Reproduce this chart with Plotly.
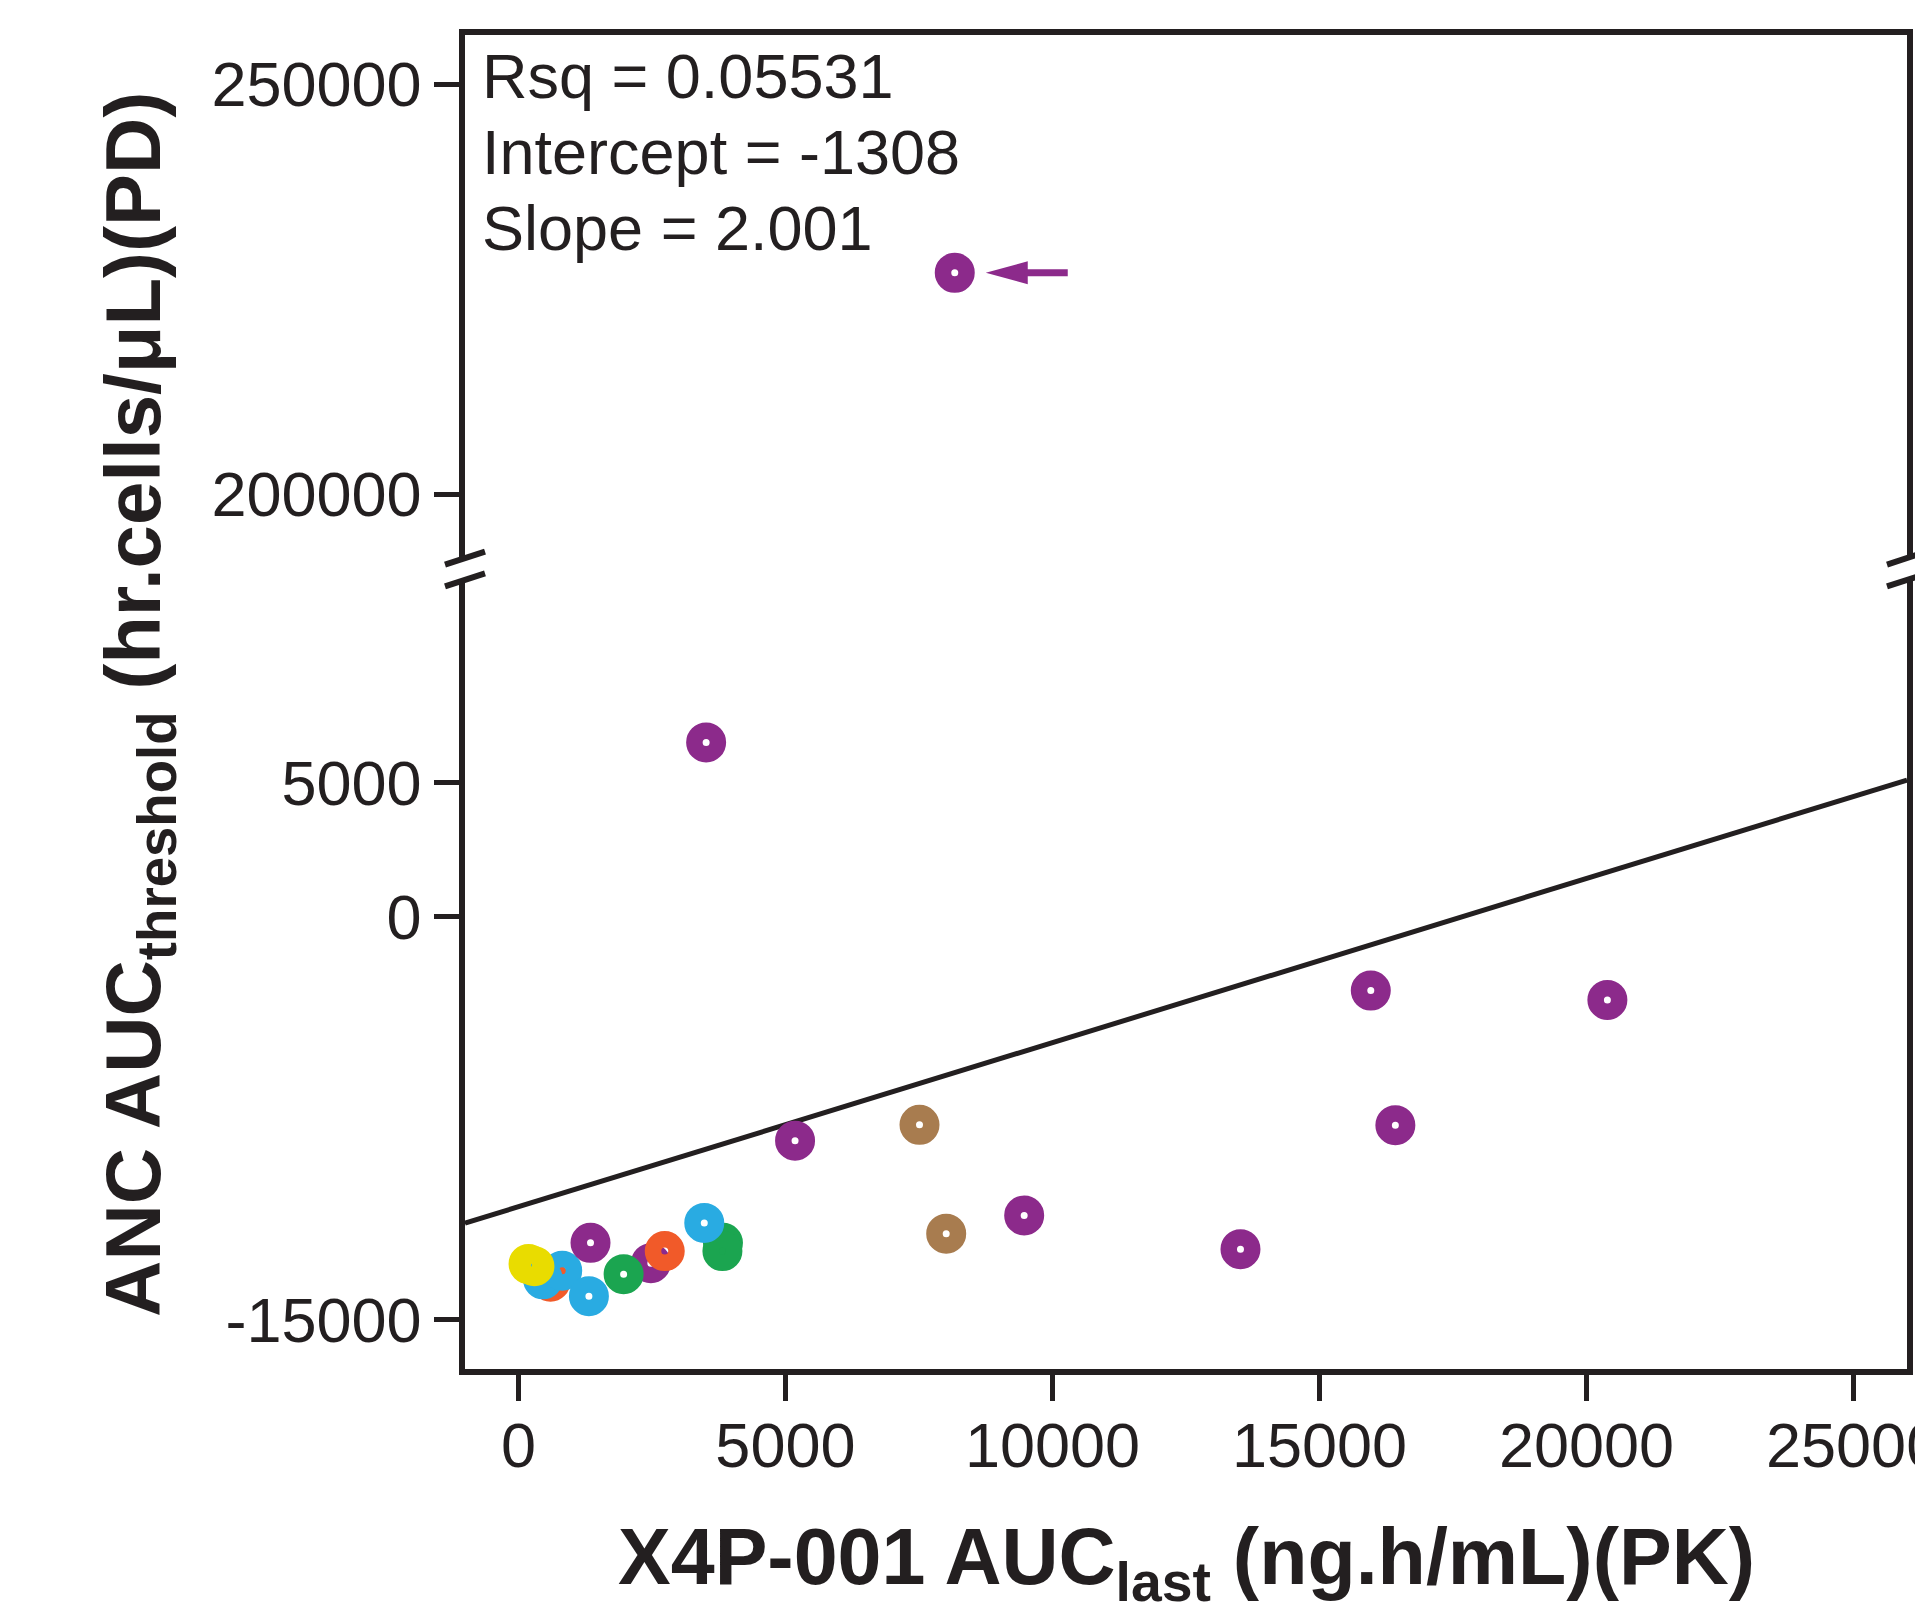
import plotly.graph_objects as go

INK = '#231F20'
FONT = 'Liberation Sans, Arial, Helvetica, sans-serif'

# PK exposure vs PD response, one entry per subject (listed in drawing order)
auc_pk = [600, 460, 820, 190, 300, 1350, 1320, 2480, 1970, 2740, 3830, 3820, 3480,
          5180, 7510, 8010, 9470, 13520, 15960, 16420, 20390, 3515, 8170]
auc_pd = [-13580, -13490, -13170, -12920, -13000, -12130, -14120, -12890, -13300, -12440,
          -12130, -12440, -11390, -8330, -7740, -11790, -11110, -12370, -2740, -7750,
          -3090, 6500, 227000]
group = ['orange', 'blue', 'blue', 'yellow', 'yellow', 'purple', 'blue', 'purple', 'green',
         'orange', 'green', 'green', 'blue', 'purple', 'brown', 'brown', 'purple', 'purple',
         'purple', 'purple', 'purple', 'purple', 'purple']

colors = {'purple': '#8C2A8B', 'orange': '#F15A29', 'blue': '#29ABE2',
          'green': '#1BA550', 'yellow': '#E9DC00', 'brown': '#A87C4F'}

# regression line as drawn
fit_x = [-1000, 26000]
fit_y = [-11400, 5100]

stats = ['Rsq = 0.05531', 'Intercept = -1308', 'Slope = 2.001']

x_ticks = [0, 5000, 10000, 15000, 20000, 25000]
y_ticks_low = [-15000, 0, 5000]
y_ticks_high = [200000, 250000]

x_range = [-1000, 26000]
y_range_low = [-16830, 12550]
y_range_high = [192200, 256000]
y_break = 100000

low_dom = [0, 0.5915]
high_dom = [0.6079, 1]

lo = [i for i in range(len(auc_pk)) if auc_pd[i] < y_break]
hi = [i for i in range(len(auc_pk)) if auc_pd[i] >= y_break]

ring = dict(symbol='circle-open', size=23.5, line=dict(width=16.5))

fig = go.Figure()
fig.add_trace(go.Scatter(x=fit_x, y=fit_y, mode='lines', line=dict(color=INK, width=5),
                         xaxis='x', yaxis='y', showlegend=False, hoverinfo='skip'))
fig.add_trace(go.Scatter(x=[auc_pk[i] for i in lo], y=[auc_pd[i] for i in lo], mode='markers',
                         marker=dict(color=[colors[group[i]] for i in lo], **ring),
                         xaxis='x', yaxis='y', showlegend=False))
fig.add_trace(go.Scatter(x=[auc_pk[i] for i in hi], y=[auc_pd[i] for i in hi], mode='markers',
                         marker=dict(color=[colors[group[i]] for i in hi], **ring),
                         xaxis='x2', yaxis='y2', showlegend=False))

axis_common = dict(showgrid=False, zeroline=False, linecolor=INK, linewidth=5.5, automargin=False,
                   tickcolor=INK, tickwidth=5, tickfont=dict(size=63, color=INK, family=FONT))

fig.update_layout(
    width=1915, height=1604,
    margin=dict(l=465, r=8, t=35, b=235),
    paper_bgcolor='white', plot_bgcolor='white',
    font=dict(family=FONT, color=INK),
    xaxis=dict(domain=[0, 1], range=x_range, anchor='y', showline=True, ticks='outside',
               ticklen=26, tickvals=x_ticks, ticktext=[str(v) for v in x_ticks],
               ticklabelstandoff=-9, ticklabeloverflow='allow', **axis_common),
    xaxis2=dict(matches='x', anchor='y2', side='top', showline=True, ticks='',
                showticklabels=False, showgrid=False, zeroline=False, automargin=False,
                linecolor=INK, linewidth=5.5),
    yaxis=dict(domain=low_dom, range=y_range_low, anchor='x', showline=True, mirror=True,
               ticks='outside', ticklen=25, tickvals=y_ticks_low,
               ticktext=[str(v) for v in y_ticks_low], ticklabelstandoff=0, **axis_common),
    yaxis2=dict(domain=high_dom, range=y_range_high, anchor='x2', showline=True, mirror=True,
                ticks='outside', ticklen=25, tickvals=y_ticks_high,
                ticktext=[str(v) for v in y_ticks_high], ticklabelstandoff=0, **axis_common),
)

# axis break marks on both sides
shapes = []
for xp in [0, 1]:
    for yp in [low_dom[1], high_dom[0]]:
        shapes.append(dict(type='line', xref='paper', yref='paper', xsizemode='pixel',
                           ysizemode='pixel', xanchor=xp, yanchor=yp,
                           x0=-20, x1=20, y0=-6.5, y1=6.5, line=dict(color=INK, width=6)))

# arrow pointing at the outlier
ox, oy = auc_pk[hi[0]], auc_pd[hi[0]]
shapes.append(dict(type='path', xref='x2', yref='y2', xsizemode='pixel', ysizemode='pixel',
                   xanchor=ox, yanchor=oy, path='M 31 0 L 73 11.5 L 73 -11.5 Z',
                   fillcolor=colors['purple'], line=dict(width=0)))
shapes.append(dict(type='line', xref='x2', yref='y2', xsizemode='pixel', ysizemode='pixel',
                   xanchor=ox, yanchor=oy, x0=70, x1=113, y0=0, y1=0,
                   line=dict(color=colors['purple'], width=7)))
fig.update_layout(shapes=shapes)

annotations = []
for k, s in enumerate(stats):
    annotations.append(dict(text=s, xref='paper', yref='paper', x=0.0104, y=0.969 - 0.057 * k,
                            xanchor='left', yanchor='middle', showarrow=False,
                            font=dict(size=63, color=INK, family=FONT)))
annotations.append(dict(text='<b>X4P-001 AUC<sub>last</sub> (ng.h/mL)(PK)</b>',
                        xref='paper', yref='paper', x=0.5, y=-0.145, xanchor='center',
                        yanchor='middle', showarrow=False,
                        font=dict(size=79, color=INK, family=FONT)))
annotations.append(dict(text='<b>ANC AUC<sub>threshold</sub> (hr.cells/μL)(PD)</b>',
                        xref='paper', yref='paper', x=-0.2266, y=0.498, xanchor='center',
                        yanchor='middle', textangle=-90, showarrow=False,
                        font=dict(size=78, color=INK, family=FONT)))
fig.update_layout(annotations=annotations)

# drop the browser's default page margin so the figure sits at the window corner
fig.write_html('out.html', config={'displayModeBar': False},
               post_script="document.body.style.margin = '0';")
